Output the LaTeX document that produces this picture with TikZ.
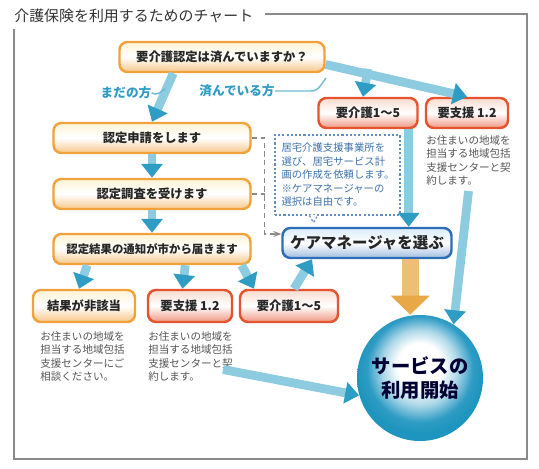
\documentclass[tikz,border=0pt]{standalone}
\usepackage{fontspec}
\setmainfont{Noto Sans CJK JP}
\usetikzlibrary{arrows.meta,calc}
\definecolor{ChartOrange}{HTML}{F2A23A}
\definecolor{ChartCream}{HTML}{FFF3D6}
\definecolor{ChartRed}{HTML}{E5532F}
\definecolor{ChartPink}{HTML}{FBDCCF}
\definecolor{ChartBlue}{HTML}{2C6DB8}
\definecolor{ChartSky}{HTML}{D9ECF8}
\definecolor{ChartTeal}{HTML}{2F9CC4}
\definecolor{ChartTealLight}{HTML}{8CCBE0}
\definecolor{ChartBall}{HTML}{1E95BE}
\definecolor{ChartMemo}{HTML}{3D72AE}
\definecolor{ChartText}{HTML}{555555}
\definecolor{ChartFrame}{HTML}{8A8A8A}
\definecolor{ChartGold}{HTML}{E9A848}
\pgfdeclareradialshading{ballglow}{\pgfpoint{0bp}{6bp}}{%
  color(0bp)=(white); color(9bp)=(white); color(15bp)=(ChartTeal!40);
  color(21bp)=(ChartTeal); color(25bp)=(ChartBall); color(50bp)=(ChartBall)}

\begin{document}
\begin{tikzpicture}[
  x=1cm,y=1cm,
  >=Stealth,
  stepbase/.style={rounded corners=4.5pt,minimum height=0.6cm,line width=1.4pt,
    font=\fontsize{7}{8}\selectfont\bfseries,text=black!85,inner sep=0pt},
  orangebox/.style={stepbase,draw=ChartOrange,top color=ChartCream,
    bottom color=ChartOrange!60,middle color=white},
  redbox/.style={stepbase,draw=ChartRed,top color=ChartPink,
    bottom color=ChartRed!60,middle color=white},
  carebox/.style={stepbase,draw=ChartBlue,top color=ChartSky,
    bottom color=ChartBlue!45,middle color=white,
    font=\fontsize{8.8}{10}\selectfont\bfseries},
  memo/.style={draw=ChartMemo!80,dash pattern=on 1.2pt off 1.2pt,line width=0.7pt,
    fill=white,text=ChartMemo,font=\fontsize{5.9}{7.7}\selectfont,align=left,
    text width=2.24cm,minimum height=1.6cm,inner sep=0.13cm},
  note/.style={text=ChartText,font=\fontsize{6}{7.7}\selectfont,align=left,
    anchor=north west,inner sep=0pt},
  tag/.style={text=ChartTeal,font=\fontsize{7.2}{8}\selectfont\bfseries,inner sep=0pt},
  leader/.style={draw=ChartTeal!70,line width=0.8pt},
  flow/.style={draw=ChartTealLight,line width=5pt,
    -{Triangle[color=ChartTeal,width=0.42cm,length=0.28cm]}},
  bigflow/.style={draw=ChartGold!75,line width=9.5pt,
    -{Triangle[color=ChartGold,width=0.76cm,length=0.38cm]}},
  link/.style={draw=ChartFrame,densely dashed,line width=0.6pt},
  frame/.style={draw=ChartFrame,line width=0.7pt},
  ball/.style={circle,minimum size=2.52cm,shading=ballglow,align=center,
    font=\fontsize{11}{13.3}\selectfont\bfseries,text=black!80!blue}
]
  \useasboundingbox (0,0) rectangle (10.78,9.36);

  % Heading and open frame.
  \node[anchor=west,inner sep=0pt,text=black!80,font=\fontsize{8.5}{10}\selectfont]
    (heading) at (0.28,9.04) {介護保険を利用するためのチャート};
  \draw[frame] (5.30,9.08) -- (10.54,9.08) -- (10.54,0.18) -- (0.28,0.18) -- (0.28,8.78);

  % Steps of the certification.
  \node[orangebox,minimum width=4.1cm] (ask) at (4.44,8.22) {要介護認定は済んでいますか？};
  \node[orangebox,minimum width=3.94cm] (apply) at (3.04,6.60) {認定申請をします};
  \node[orangebox,minimum width=3.94cm] (survey) at (3.04,5.48) {認定調査を受けます};
  \node[orangebox,minimum width=3.94cm,font=\fontsize{6.5}{8}\selectfont\bfseries]
    (notice) at (3.04,4.38) {認定結果の通知が市から届きます};

  % Levels already certified.
  \node[redbox,minimum width=1.98cm] (level) at (7.36,7.10) {要介護1～5};
  \node[redbox,minimum width=1.64cm] (support) at (9.34,7.10) {要支援 1.2};
  \node[note] (supportnote) at (8.52,6.66)
    {お住まいの地域を\\担当する地域包括\\支援センターと契\\約します。};

  % Results of the certification.
  \node[orangebox,minimum width=2.04cm,minimum height=0.64cm] (nonelig) at (1.68,3.24) {結果が非該当};
  \node[redbox,minimum width=1.68cm,minimum height=0.64cm] (support2) at (3.80,3.24) {要支援 1.2};
  \node[redbox,minimum width=1.96cm,minimum height=0.64cm] (level2) at (5.78,3.24) {要介護1～5};
  \node[note] (noneligote) at (0.80,2.74)
    {お住まいの地域を\\担当する地域包括\\支援センターにご\\相談ください。};
  \node[note] (support2note) at (2.96,2.74)
    {お住まいの地域を\\担当する地域包括\\支援センターと契\\約します。};

  % Care manager and the start of the service.
  \node[memo] (memo) at (6.75,5.86)
    {居宅介護支援事業所を\\選び、居宅サービス計\\画の作成を依頼します。\\※ケアマネージャーの\\選択は自由です。};
  \fill[white] ([xshift=-5.6mm,yshift=0.4pt]memo.south) -- ([xshift=-4.8mm,yshift=-1.4mm]memo.south)
    -- ([xshift=-4.0mm,yshift=0.4pt]memo.south) -- cycle;
  \draw[draw=ChartMemo!80,dash pattern=on 1.2pt off 1.2pt,line width=0.7pt]
    ([xshift=-5.6mm]memo.south) -- ([xshift=-4.8mm,yshift=-1.4mm]memo.south)
    -- ([xshift=-4.0mm]memo.south);
  \node[carebox,minimum width=3.38cm] (manager) at (7.34,4.50) {ケアマネージャを選ぶ};
  \node[ball] (start) at (8.40,1.80) {サービスの\\利用開始};

  % Answers to the first question.
  \node[tag] (mada) at (2.52,7.50) {まだの方};
  \node[tag] (sumi) at (4.74,7.54) {済んでいる方};
  \coordinate (madaend) at (3.30,7.58);
  \coordinate (sumiend) at (6.52,7.80);
  \draw[flow] ($(ask.east)!0.3!(support.north)$) -- ([xshift=-1mm]level.north);
  \draw[flow] ([yshift=-1.5mm]ask.east) -- (support.north);
  \draw[flow] ([xshift=1.1cm]ask.south west) -- (apply.north);
  \draw[leader] (mada.east) .. controls +(0.12,-0.06) and +(-0.1,-0.06) .. (madaend);
  \draw[leader] (sumi.east) -- ++(0.66,0) .. controls +(0.18,0) .. (sumiend);

  % Application chain and its results.
  \draw[flow] (apply) -- (survey);
  \draw[flow] (survey) -- (notice);
  \draw[flow] ([xshift=7mm]notice.south west) -- ([xshift=-1mm]nonelig.north);
  \draw[flow] ([xshift=2.66cm]notice.south west) -- ([xshift=-1.5mm]support2.north);
  \draw[flow] ([xshift=-2mm]notice.south east) -- ([xshift=-7mm]level2.north);

  % The manager may be chosen while waiting.
  \draw[link,-{Stealth[length=1.6mm]}] (apply.east) -- ++(0.26,0) |- ([yshift=1.8mm]manager.west);
  \draw[link] (survey.east) -- ++(0.26,0);

  % Into the manager and the service.
  \draw[flow] ([xshift=1mm]level2.north) -- ([xshift=-1.1cm]manager.south);
  \draw[flow] ([xshift=-2mm]level.south east) -- ([xshift=-2mm]level.south east |- manager.north);
  \draw[bigflow] ([xshift=-8.5mm]manager.south east) -- ([xshift=-8.5mm]manager.south east |- start.north);
  \draw[flow] ([yshift=-1mm]supportnote.south) -- (start.58);
  \draw[flow] ([shift={(-0.2,0.25)}]support2note.south east) -- (start.196);
\end{tikzpicture}
\end{document}
